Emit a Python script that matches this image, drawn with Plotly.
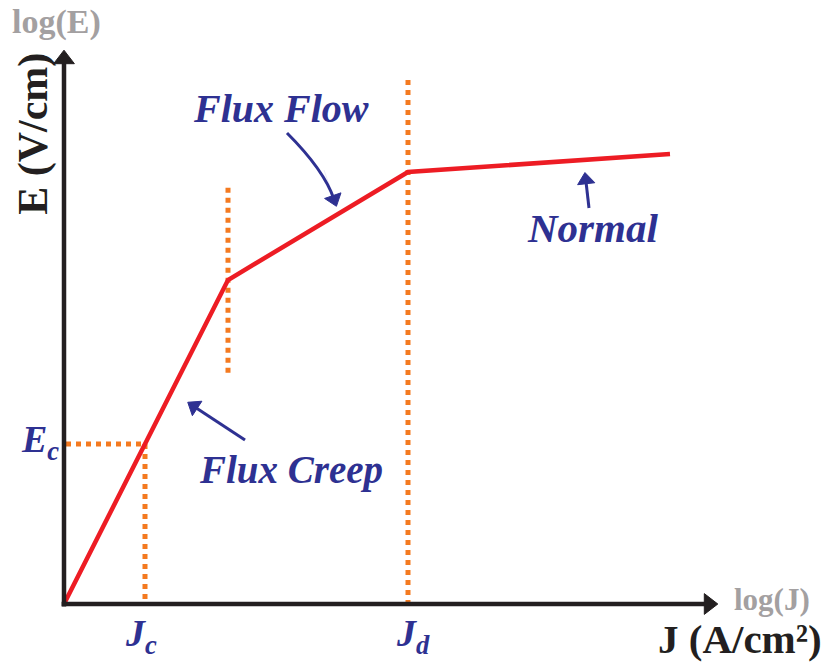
import plotly.graph_objects as go

# ---- data (log J on x, log E on y, arbitrary decades) ----
curve_j = [0.0, 4.1, 8.6, 15.15]          # E-J characteristic break points
curve_e = [0.0, 8.1, 10.8, 11.25]

jc_value = 2.025                           # critical current density
ec_value = 4.0                             # electric-field criterion
jd_value = 8.6                             # depinning current density
knee_j = 4.1                               # creep -> flow transition
knee_span = [5.78, 10.43]                  # extent of the transition marker
jd_top = 13.1                              # top of the J_d marker

axis_x_end = 16.12
axis_y_end = 13.62

# ---- colours / fonts ----
RED = "#ed1c24"
ORANGE = "#f47a20"
NAVY = "#2e3192"
GREY = "#a3a0a1"
BLACK = "#231f20"
SERIF = "Liberation Serif"

fig = go.Figure()


def arrow(xs, ys, color, width, head):
    """Line ending in a triangular head aligned with the last segment."""
    sizes = [0] * (len(xs) - 1) + [head]
    fig.add_trace(go.Scatter(
        x=xs, y=ys, mode="lines+markers", hoverinfo="skip",
        line=dict(color=color, width=width),
        marker=dict(symbol="triangle-up", size=sizes, color=color, opacity=1,
                    angleref="previous", line=dict(width=1, color=color)),
    ))


# dotted guide lines
dot_style = dict(color=ORANGE, width=5, dash="5px,5px")
fig.add_trace(go.Scatter(x=[0.05, jc_value], y=[ec_value, ec_value], mode="lines",
                         line=dot_style, hoverinfo="skip"))
fig.add_trace(go.Scatter(x=[jc_value, jc_value], y=[ec_value, 0], mode="lines",
                         line=dot_style, hoverinfo="skip"))
fig.add_trace(go.Scatter(x=[knee_j, knee_j], y=knee_span, mode="lines",
                         line=dot_style, hoverinfo="skip"))
fig.add_trace(go.Scatter(x=[jd_value, jd_value], y=[jd_top, 0], mode="lines",
                         line=dot_style, hoverinfo="skip"))

# E-J curve
fig.add_trace(go.Scatter(x=curve_j, y=curve_e, mode="lines",
                         line=dict(color=RED, width=4.5), hoverinfo="skip"))

# axes drawn as arrows from the origin
arrow([0, 0], [-0.06, axis_y_end], BLACK, 4.5, 18)
arrow([-0.06, axis_x_end], [0, 0], BLACK, 4.5, 18)

# pointer arrows for the regime labels: tail -> head
arrow([4.525, 3.25], [4.1, 4.94], NAVY, 3, 15)        # Flux Creep
arrow([13.125, 13.045], [9.9, 10.6], NAVY, 3, 15)     # Normal

# curved pointer for Flux Flow: quadratic bezier + head
ff_start, ff_ctrl, ff_tip = (5.575, 11.775), (6.5, 10.85), (6.75, 10.12)
fig.add_shape(type="path", xref="x", yref="y",
              path=f"M {ff_start[0]},{ff_start[1]} Q {ff_ctrl[0]},{ff_ctrl[1]} {ff_tip[0]},{ff_tip[1]}",
              line=dict(color=NAVY, width=3))
arrow([ff_ctrl[0], ff_tip[0]], [ff_ctrl[1], ff_tip[1]], NAVY, 0.1, 15)

annotations = []


def label(x, y, text, color, size, angle=0, italic=False, bold=True):
    t = text
    if bold:
        t = f"<b>{t}</b>"
    if italic:
        t = f"<i>{t}</i>"
    annotations.append(dict(x=x, y=y, xref="x", yref="y", text=t, showarrow=False,
                            textangle=angle, xanchor="center", yanchor="middle",
                            font=dict(family=SERIF, size=size, color=color)))


label(-0.2, 14.55, "log(E)", GREY, 34)
label(-0.78, 11.75, "E (V/cm)", BLACK, 42, angle=-90)
label(17.7, 0.12, "log(J)", GREY, 31)
label(16.9, -0.88, "J (A/cm²)", BLACK, 41)

label(5.42, 12.4, "Flux Flow", NAVY, 40, italic=True)
label(13.2, 9.4, "Normal", NAVY, 41, italic=True)
label(5.68, 3.35, "Flux Creep", NAVY, 39, italic=True)
label(-0.6, 4.05, "E<sub>c</sub>", NAVY, 38, italic=True)
label(1.93, -0.8, "J<sub>c</sub>", NAVY, 38, italic=True)
label(8.72, -0.8, "J<sub>d</sub>", NAVY, 38, italic=True)

fig.update_layout(
    width=828, height=662,
    margin=dict(l=0, r=0, t=0, b=0),
    paper_bgcolor="white", plot_bgcolor="white",
    showlegend=False,
    xaxis=dict(range=[-1.6, 19.1], visible=False, fixedrange=True),
    yaxis=dict(range=[-1.45, 15.1], visible=False, fixedrange=True),
    annotations=annotations,
)

fig.write_html("out.html")
